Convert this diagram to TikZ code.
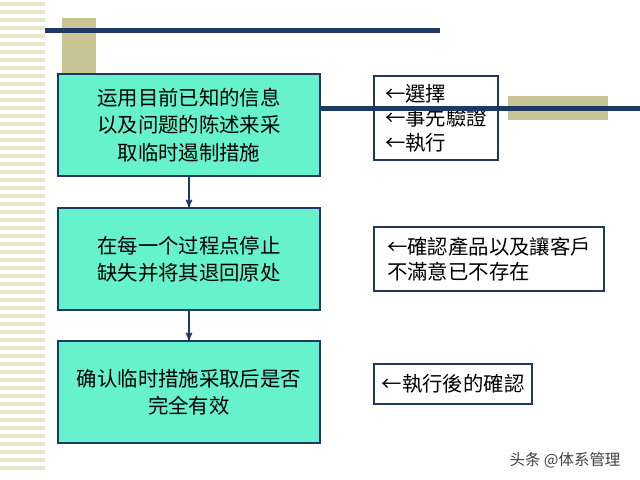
\documentclass[tikz,border=0pt]{standalone}
\usepackage{fontspec}
\newfontfamily\scfont{Noto Sans CJK SC}
\newfontfamily\tcfont{Noto Sans CJK TC}
\usetikzlibrary{arrows}
\definecolor{navy}{HTML}{1F3864}
\definecolor{teal}{HTML}{66F2CC}
\definecolor{khaki}{HTML}{C8C494}
\definecolor{stripe}{HTML}{E8E6CC}
\tikzset{
  stepbox/.style={draw=navy,line width=1.5pt,fill=teal,minimum width=6.55cm,minimum height=2.53cm,
    align=center,font=\scfont\fontsize{14.5}{19.5}\selectfont},
  notebox/.style={draw=navy,line width=1.5pt,fill=white,anchor=north west,align=left,
    font=\tcfont\fontsize{14.5}{17.5}\selectfont,inner sep=2pt}
}
\begin{document}
\begin{tikzpicture}[x=0.025cm,y=-0.025cm,>=stealth',line width=1pt]
  \useasboundingbox (0,0) rectangle (640,480);
  % stripes on the left
  \foreach \y in {2,10,...,470}
    \fill[stripe] (0,\y) rectangle (45,\y+4);
  % decor bars
  \fill[khaki] (62,18) rectangle (96,75);
  \fill[navy] (45,28) rectangle (440,33);
  \fill[khaki] (508,96) rectangle (608,120);
  \fill[navy] (320,106) rectangle (640,111);

  \node[stepbox] (s1) at (189,125) {运用目前已知的信息\\以及问题的陈述来采\\取临时遏制措施};
  \node[stepbox] (s2) at (189,259) {在每一个过程点停止\\缺失并将其退回原处};
  \node[stepbox] (s3) at (189,392) {确认临时措施采取后是否\\完全有效};

  \draw[navy,->] (s1) -- (s2);
  \draw[navy,->] (s2) -- (s3);

  \node[notebox,minimum width=3.1cm,minimum height=2.1cm] (n1) at (373,75) {←選擇\\←事先驗證\\←執行};
  \fill[navy] (320,106) rectangle (497,111);
  \node[notebox,minimum width=5.75cm,minimum height=1.6cm] (n2) at (373,226) {←確認產品以及讓客戶\\不滿意已不存在};
  \node[notebox,minimum width=3.95cm,minimum height=1.0cm,anchor=west] (n3) at (373,384) {←執行後的確認};

  \node[font=\scfont\fontsize{11}{13}\selectfont,text=black!75] (wm) at (565,460) {头条 @体系管理};
\end{tikzpicture}
\end{document}
